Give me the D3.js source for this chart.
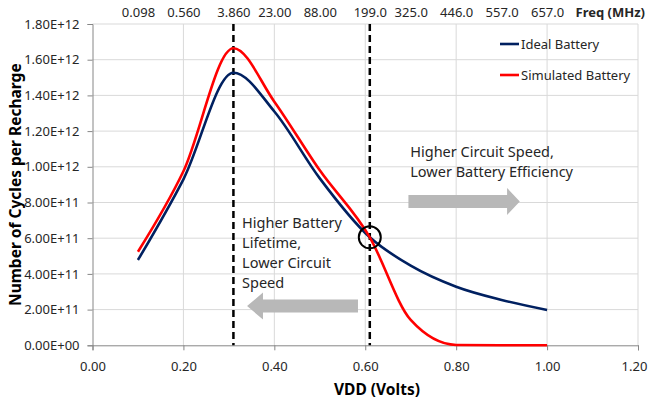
<!DOCTYPE html>
<html>
<head>
<meta charset="utf-8">
<script src="https://cdn.jsdelivr.net/npm/d3@7"></script>
<style>
  body { margin: 0; background: #fff; }
  svg { display: block; font-family: 'Noto Sans', sans-serif; }
  .grid line { stroke: #d9d9d9; stroke-width: 1; }
  .axis text { fill: #262626; font-size: 13px; font-family: 'Noto Sans', sans-serif; }
  .axis line, .axis path { stroke: #868686; }
</style>
</head>
<body>
<svg id="chart" width="649" height="407"></svg>
<script>
// Supply voltage of each measurement (V)
const voltage = [0.1, 0.2, 0.31, 0.4, 0.5, 0.61, 0.7, 0.8, 0.9, 1.0];
// Number of cycles per recharge
const idealBattery = [4.78e11, 9.3e11, 1.527e12, 1.31e12, 9.35e11, 6.05e11, 4.46e11, 3.28e11, 2.54e11, 1.98e11];
const simulatedBattery = [5.24e11, 9.75e11, 1.664e12, 1.365e12, 9.8e11, 6.05e11, 1.42e11, 0.02e11, 0, 0];
// Clock frequency at each voltage (top axis)
const freqLabels = ['0.098', '0.560', '3.860', '23.00', '88.00', '199.0', '325.0', '446.0', '557.0', '657.0'];
// Axis ticks
const xTicks = [0, 0.2, 0.4, 0.6, 0.8, 1.0, 1.2];
const yTicks = [0, 2e11, 4e11, 6e11, 8e11, 1e12, 1.2e12, 1.4e12, 1.6e12, 1.8e12];
// Optimum points marked with dashed lines
const markers = [0.31, 0.61];

(function draw() {
  const svg = d3.select('#chart');
  const plotLeft = 92.5, plotRight = 638, plotTop = 24, plotBottom = 345.3;

  const x = d3.scaleLinear().domain([0, 1.2]).range([plotLeft, plotRight]);
  const y = d3.scaleLinear().domain([0, 1.8e12]).range([plotBottom, plotTop]);

  // Excel style scientific labels, e.g. 1.80E+12
  const sci = (v) => {
    const [m, e] = d3.format('.2e')(v).split('e');
    return `${m}E${e[0]}${e.slice(1).padStart(2, '0')}`;
  };

  // Gridlines
  svg.append('g')
    .attr('class', 'grid')
    .selectAll('line')
    .data(yTicks.slice(1))
    .enter()
      .append('line')
        .attr('x1', plotLeft).attr('x2', plotRight)
        .attr('y1', d => y(d)).attr('y2', d => y(d));

  svg.append('g')
    .attr('class', 'grid')
    .selectAll('line')
    .data(xTicks.slice(1))
    .enter()
      .append('line')
        .attr('x1', d => x(d)).attr('x2', d => x(d))
        .attr('y1', plotTop).attr('y2', plotBottom);

  // Axes
  svg.append('g')
    .attr('class', 'axis')
    .attr('transform', `translate(${plotLeft},0)`)
    .call(d3.axisLeft(y).tickValues(yTicks).tickFormat(sci).tickSize(5).tickPadding(8));

  const xAxis = svg.append('g')
    .attr('class', 'axis')
    .attr('transform', `translate(0,${plotBottom})`)
    .call(d3.axisBottom(x).tickValues(xTicks).tickFormat(d3.format('.2f')).tickSize(5).tickPadding(11));

  // Keep the last label inside the picture
  xAxis.selectAll('.tick:last-of-type text').attr('dx', -4);

  // Top frequency labels
  svg.append('g')
    .attr('class', 'axis')
    .attr('transform', 'translate(0,17)')
    .call(d3.axisTop(x).tickValues(voltage).tickFormat((d, i) => freqLabels[i]).tickSize(0).tickPadding(0))
    .select('.domain')
      .remove();

  svg.append('text')
    .attr('x', 645).attr('y', 17)
    .attr('text-anchor', 'end')
    .attr('font-size', 13).attr('font-weight', 'bold')
    .attr('fill', '#262626')
    .text('Freq (MHz)');

  // Axis titles
  svg.append('text')
    .attr('transform', `translate(21,${(plotTop + plotBottom) / 2})rotate(-90)`)
    .attr('text-anchor', 'middle')
    .attr('font-size', 15.5).attr('font-weight', 'bold')
    .text('Number of Cycles per Recharge');

  svg.append('text')
    .attr('x', 377).attr('y', 395)
    .attr('text-anchor', 'middle')
    .attr('font-size', 15.5).attr('font-weight', 'bold')
    .text('VDD (Volts)');

  // Dashed marker lines
  svg.selectAll('line.marker')
    .data(markers)
    .enter()
      .append('line')
        .attr('class', 'marker')
        .attr('x1', d => x(d)).attr('x2', d => x(d))
        .attr('y1', plotTop).attr('y2', plotBottom)
        .attr('stroke', '#000')
        .attr('stroke-width', 2.5)
        .attr('stroke-dasharray', '7,4');

  // Series lines (smoothed)
  const line = d3.line()
    .curve(d3.curveMonotoneX)
    .x((d, i) => x(voltage[i]))
    .y(d => y(d));

  const series = [
    { name: 'Ideal Battery', values: idealBattery, color: '#002060' },
    { name: 'Simulated Battery', values: simulatedBattery, color: '#ff0000' }
  ];

  series.forEach((s) => {
    svg.append('path')
      .attr('fill', 'none')
      .attr('stroke', s.color)
      .attr('stroke-width', 2.6)
      .attr('d', line(s.values));
  });

  // Crossover circle
  svg.append('circle')
    .attr('cx', x(0.61)).attr('cy', y(6.05e11))
    .attr('r', 11)
    .attr('fill', 'none')
    .attr('stroke', '#000')
    .attr('stroke-width', 2);

  // Legend
  series.forEach((s, i) => {
    const ly = 44 + i * 31;
    svg.append('line')
      .attr('x1', 500).attr('x2', 519)
      .attr('y1', ly).attr('y2', ly)
      .attr('stroke', s.color)
      .attr('stroke-width', 2.6);
    svg.append('text')
      .attr('x', 521).attr('y', ly + 4.5)
      .attr('font-size', 13)
      .attr('fill', '#262626')
      .text(s.name);
  });

  // Gray block arrows (in data units)
  const arrow = (x0, x1, xHead, yc, body, head) => {
    const pts = [
      [x(x0), y(yc) - body], [x(xHead), y(yc) - body], [x(xHead), y(yc) - head],
      [x(x1), y(yc)],
      [x(xHead), y(yc) + head], [x(xHead), y(yc) + body], [x(x0), y(yc) + body]
    ];
    svg.append('polygon')
      .attr('points', pts.map(p => p.join(',')).join(' '))
      .attr('fill', '#b8b8b8');
  };
  arrow(0.695, 0.94, 0.912, 8.06e11, 6.5, 13.5);
  arrow(0.584, 0.340, 0.375, 2.2e11, 6.5, 13.5);

  // Annotations
  const note = (vx, vy, lines) => {
    const t = svg.append('text')
      .attr('font-size', 14.5)
      .attr('fill', '#262626');
    lines.forEach((l, i) => {
      t.append('tspan')
        .attr('x', x(vx))
        .attr('y', y(vy) + i * 20)
        .text(l);
    });
  };
  note(0.699, 1.055e12, ['Higher Circuit Speed,', 'Lower Battery Efficiency']);
  note(0.329, 6.57e11, ['Higher Battery', 'Lifetime,', 'Lower Circuit', 'Speed']);
})();
</script>
</body>
</html>
